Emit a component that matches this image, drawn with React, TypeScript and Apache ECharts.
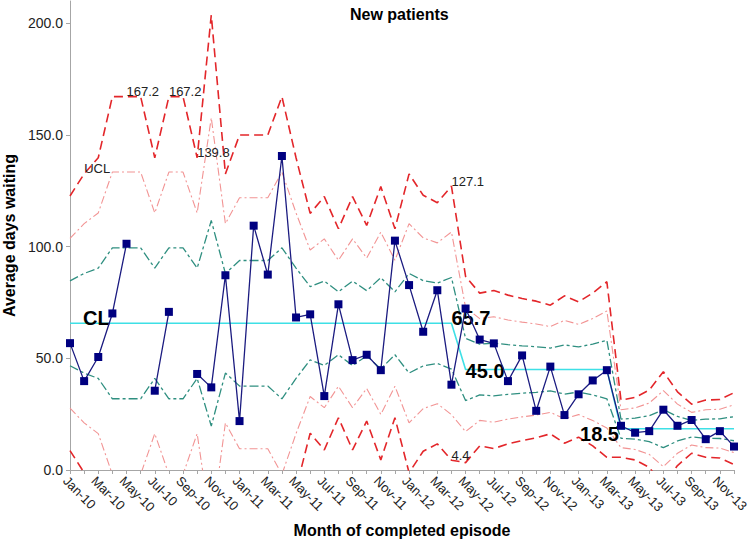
import React, { useEffect, useRef } from "react";
import * as echarts from "echarts";

const months = [
  "Jan-10","Feb-10","Mar-10","Apr-10","May-10","Jun-10","Jul-10","Aug-10","Sep-10","Oct-10","Nov-10","Dec-10",
  "Jan-11","Feb-11","Mar-11","Apr-11","May-11","Jun-11","Jul-11","Aug-11","Sep-11","Oct-11","Nov-11","Dec-11",
  "Jan-12","Feb-12","Mar-12","Apr-12","May-12","Jun-12","Jul-12","Aug-12","Sep-12","Oct-12","Nov-12","Dec-12",
  "Jan-13","Feb-13","Mar-13","Apr-13","May-13","Jun-13","Jul-13","Aug-13","Sep-13","Oct-13","Nov-13","Dec-13",
];

const waitDays = [
  56.8, 39.8, 50.6, 70.1, 101.3, null, 35.5, 70.8, null, 43.0, 37.0, 87.2,
  21.9, 109.4, 87.5, 140.6, 68.3, 69.7, 33.1, 74.2, 49.2, 51.6, 44.7, 102.7,
  82.8, 61.9, 80.5, 38.2, 72.3, 58.4, 56.7, 39.8, 51.3, 26.5, 46.3, 24.6,
  33.9, 40.1, 44.7, 19.8, 16.7, 17.4, 27.0, 19.8, 22.4, 13.8, 17.4, 10.5,
];

const centreLine = [
  65.7, 65.7, 65.7, 65.7, 65.7, 65.7, 65.7, 65.7, 65.7, 65.7, 65.7, 65.7,
  65.7, 65.7, 65.7, 65.7, 65.7, 65.7, 65.7, 65.7, 65.7, 65.7, 65.7, 65.7,
  65.7, 65.7, 65.7, 65.7, 45.0, 45.0, 45.0, 45.0, 45.0, 45.0, 45.0, 45.0,
  45.0, 45.0, 45.0, 18.5, 18.5, 18.5, 18.5, 18.5, 18.5, 18.5, 18.5, 18.5,
];

const upper1 = [
  84.7, 88.0, 90.4, 99.5, 99.5, 99.5, 90.4, 99.5, 99.5, 90.4, 111.7, 88.0,
  93.8, 93.8, 93.8, 99.5, 90.4, 82.1, 84.6, 79.8, 84.6, 80.3, 86.1, 79.8,
  88.0, 84.8, 83.7, 86.2, 58.9, 56.4, 56.8, 56.1, 55.6, 55.2, 54.6, 56.0,
  55.1, 56.4, 58.1, 22.8, 23.2, 24.3, 27.0, 24.0, 22.2, 22.8, 22.9, 23.9,
];

const upper2 = [
  103.7, 110.3, 115.1, 133.4, 133.4, 133.4, 115.1, 133.4, 133.4, 115.1, 157.7, 110.3,
  121.9, 121.9, 121.9, 133.4, 115.1, 98.5, 103.5, 93.9, 103.5, 94.9, 106.5, 93.9,
  110.3, 103.9, 101.7, 106.6, 72.8, 67.8, 68.6, 67.2, 66.2, 65.4, 64.2, 67.0,
  65.2, 67.8, 71.2, 27.0, 27.8, 30.0, 35.5, 29.5, 25.8, 27.0, 27.2, 29.2,
];

const ucl = [
  122.7, 132.6, 139.8, 167.2, 167.2, 167.2, 139.8, 167.2, 167.2, 139.8, 203.7, 132.6,
  150.0, 150.0, 150.0, 167.2, 139.8, 114.9, 122.4, 108.0, 122.4, 109.5, 126.9, 108.0,
  132.6, 123.0, 119.7, 127.1, 86.7, 79.2, 80.4, 78.3, 76.8, 75.6, 73.8, 78.0,
  75.3, 79.2, 84.3, 31.3, 32.5, 35.8, 44.0, 35.0, 29.5, 31.3, 31.6, 34.6,
];

const lower1 = [
  46.7, 43.4, 41.0, 31.9, 31.9, 31.9, 41.0, 31.9, 31.9, 41.0, 19.7, 43.4,
  37.6, 37.6, 37.6, 31.9, 41.0, 49.3, 46.8, 51.6, 46.8, 51.1, 45.3, 51.6,
  43.4, 46.6, 47.7, 45.2, 31.1, 33.6, 33.2, 33.9, 34.4, 34.8, 35.4, 34.0,
  34.9, 33.6, 31.9, 14.2, 13.8, 12.7, 10.0, 13.0, 14.8, 14.2, 14.1, 13.1,
];

const lower2 = [
  27.7, 21.1, 16.3, -2.0, -2.0, -2.0, 16.3, -2.0, -2.0, 16.3, -26.3, 21.1,
  9.5, 9.5, 9.5, -2.0, 16.3, 32.9, 27.9, 37.5, 27.9, 36.5, 24.9, 37.5,
  21.1, 27.5, 29.7, 24.8, 17.2, 22.2, 21.4, 22.8, 23.8, 24.6, 25.8, 23.0,
  24.8, 22.2, 18.8, 10.0, 9.2, 7.0, 1.5, 7.5, 11.2, 10.0, 9.8, 7.8,
];

const lcl = [
  8.7, -1.2, -8.4, -35.8, -35.8, -35.8, -8.4, -35.8, -35.8, -8.4, -72.3, -1.2,
  -18.6, -18.6, -18.6, -35.8, -8.4, 16.5, 9.0, 23.4, 9.0, 21.9, 4.5, 23.4,
  -1.2, 8.4, 11.7, 4.4, 3.3, 10.8, 9.6, 11.7, 13.2, 14.4, 16.2, 12.0,
  14.7, 10.8, 5.7, 5.7, 4.5, 1.2, -7.0, 2.0, 7.5, 5.7, 5.4, 2.4,
];

const yTicks = [0, 50, 100, 150, 200];

const uclLabels: Record<number, string> = { 1: "UCL", 4: "167.2", 7: "167.2", 9: "139.8", 27: "127.1" };
const lclLabels: Record<number, string> = { 27: "4.4" };
const clLabels: Record<number, string> = { 0: "CL", 27: "65.7", 28: "45.0", 39: "18.5" };

const FONT = 'Arial, "Liberation Sans", sans-serif';

export default function App() {
  const ref = useRef<HTMLDivElement>(null);

  useEffect(() => {
    if (!ref.current) return;
    const chart = echarts.init(ref.current, undefined, { renderer: "svg" });

    const smallLabel = {
      show: true,
      position: "right",
      distance: 0,
      offset: [0, -5],
      fontSize: 13,
      color: "#222",
      opacity: 1,
      fontFamily: FONT,
    };

    const hiddenSymbol = {
      symbol: "circle",
      symbolSize: 0.01,
      itemStyle: { color: "rgba(0,0,0,0)", borderWidth: 0 },
    };

    const withLabels = (values: (number | null)[], labels: Record<number, string>) =>
      values.map((v, i) =>
        labels[i] !== undefined
          ? { value: v, ...hiddenSymbol, label: { ...smallLabel, formatter: labels[i] } }
          : { value: v, symbol: "none" }
      );

    const clPos: Record<number, any> = {
      0: { position: "right", distance: 13, offset: [0, -5] },
      27: { position: "right", distance: 0, offset: [0, -5] },
      28: { position: "right", distance: 0, offset: [0, 1] },
      39: { position: "left", distance: 2, offset: [0, 5] },
    };

    const clData = centreLine.map((v, i) =>
      clLabels[i] !== undefined
        ? {
            value: v,
            ...hiddenSymbol,
            label: {
              show: true,
              formatter: clLabels[i],
              fontSize: 20,
              fontWeight: "bold",
              color: "#000",
              opacity: 1,
              fontFamily: FONT,
              ...clPos[i],
            },
          }
        : { value: v, symbol: "none" }
    );

    const red = "#e3262a";
    const pink = "#f29494";
    const teal = "#2f8f80";

    const limitSeries = (name: string, data: any[], color: string, type: any, width: number, labelled: boolean) => ({
      name,
      type: "line",
      data,
      symbol: labelled ? "circle" : "none",
      symbolSize: 0.01,
      showSymbol: labelled,
      clip: true,
      silent: true,
      z: 2,
      itemStyle: { color: "rgba(0,0,0,0)" },
      lineStyle: { color, width, type },
      label: { show: false },
    });

    chart.setOption({
      animation: false,
      backgroundColor: "#fff",
      textStyle: { fontFamily: FONT },
      title: {
        text: "New patients",
        left: 345,
        top: 1,
        textStyle: { fontSize: 16, fontWeight: "bold", color: "#000", fontFamily: FONT },
      },
      grid: { left: 70, right: 16, top: 1, bottom: 74, containLabel: false, outerBoundsMode: "none" },
      xAxis: {
        type: "category",
        data: months,
        boundaryGap: false,
        name: "Month of completed episode",
        nameLocation: "middle",
        nameGap: 52,
        nameMoveOverlap: false,
        nameTextStyle: { fontSize: 16, fontWeight: "bold", color: "#000", fontFamily: FONT },
        axisLine: { lineStyle: { color: "#a6a6a6", width: 1 } },
        axisTick: { show: true, interval: 0, length: 4, lineStyle: { color: "#a6a6a6" } },
        axisLabel: {
          interval: 1,
          rotate: -45,
          margin: 4,
          fontSize: 13,
          verticalAlign: "top",
          color: "#222",
          fontFamily: FONT,
          hideOverlap: false,
        },
        splitLine: { show: false },
      },
      yAxis: {
        type: "value",
        min: 0,
        max: 210,
        interval: 50,
        name: "Average days waiting",
        nameLocation: "middle",
        nameGap: 45,
        nameTextStyle: { fontSize: 16, fontWeight: "bold", color: "#000", fontFamily: FONT },
        axisLine: { show: true, lineStyle: { color: "#a6a6a6", width: 1 } },
        axisTick: { show: true, length: 4, lineStyle: { color: "#a6a6a6" }, customValues: yTicks },
        axisLabel: {
          fontSize: 14,
          color: "#222",
          margin: 7,
          fontFamily: FONT,
          customValues: yTicks,
          formatter: (v: number) => v.toFixed(1),
        },
        splitLine: { show: false },
      },
      series: [
        limitSeries("LCL", withLabels(lcl, lclLabels), red, [9, 5], 1.6, true),
        limitSeries("Lower 2 sigma", lower2, pink, [8, 3, 2, 3], 1.1, false),
        limitSeries("Lower 1 sigma", lower1, teal, [9, 3, 3, 3], 1.3, false),
        limitSeries("Upper 1 sigma", upper1, teal, [9, 3, 3, 3], 1.3, false),
        limitSeries("Upper 2 sigma", upper2, pink, [8, 3, 2, 3], 1.1, false),
        limitSeries("UCL", withLabels(ucl, uclLabels), red, [9, 5], 1.6, true),
        {
          name: "CL",
          type: "line",
          data: clData,
          symbol: "circle",
          symbolSize: 0.01,
          showSymbol: true,
          silent: true,
          z: 3,
          itemStyle: { color: "rgba(0,0,0,0)" },
          lineStyle: { color: "#3ee0e6", width: 1.6 },
          label: { show: false },
        },
        {
          name: "Average days waiting",
          type: "line",
          data: waitDays,
          connectNulls: false,
          symbol: "rect",
          symbolSize: 8,
          showSymbol: true,
          z: 4,
          itemStyle: { color: "#000080" },
          lineStyle: { color: "#1b1b80", width: 1.3 },
          label: { show: false },
        },
      ],
    });

    return () => chart.dispose();
  }, []);

  return (
    <div
      ref={ref}
      style={{ position: "fixed", left: 0, top: 0, width: 750, height: 544, background: "#fff" }}
    />
  );
}
